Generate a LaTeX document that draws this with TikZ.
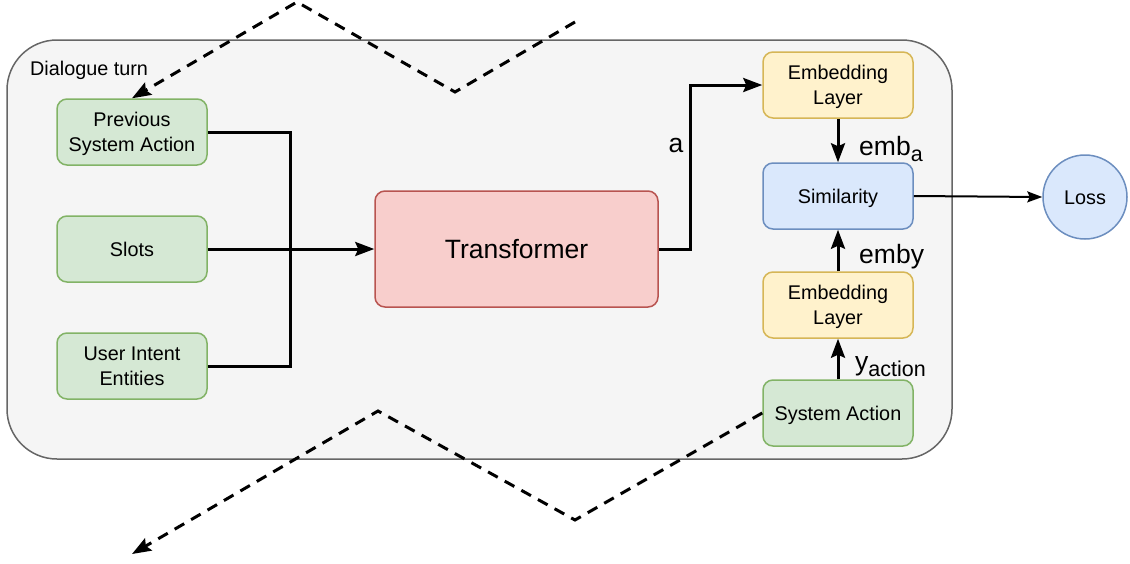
\documentclass[tikz,border=0pt]{standalone}
\usepackage{fontspec}
\setmainfont{Liberation Sans}
\usetikzlibrary{arrows.meta}
\definecolor{contfill}{HTML}{F5F5F5}
\definecolor{contdraw}{HTML}{666666}
\definecolor{gfill}{HTML}{D5E8D4}
\definecolor{gdraw}{HTML}{82B366}
\definecolor{rfill}{HTML}{F8CECC}
\definecolor{rdraw}{HTML}{B85450}
\definecolor{yfill}{HTML}{FFF2CC}
\definecolor{ydraw}{HTML}{D6B656}
\definecolor{bfill}{HTML}{DAE8FC}
\definecolor{bdraw}{HTML}{6C8EBF}
\newcommand{\lblsub}[1]{\raisebox{-6pt}{\fontsize{21.5}{24}\selectfont #1}}
\tikzset{
  box/.style={draw, line width=1.5pt, rounded corners=10pt, minimum width=150pt, minimum height=66pt,
    align=center, inner sep=2pt, font=\fontsize{19.8}{25}\selectfont},
  oneline/.style={text height=14.5pt, text depth=0pt},
  twoline/.style={text height=39.5pt, text depth=0pt},
  greenbox/.style={box, fill=gfill, draw=gdraw},
  yellowbox/.style={box, fill=yfill, draw=ydraw},
  bluebox/.style={box, fill=bfill, draw=bdraw},
  conn/.style={line width=3pt},
  tip/.style={-{Stealth[length=19pt,width=14pt,inset=3pt]}},
  thintip/.style={-{Stealth[length=15pt,width=11pt,inset=2.5pt]}},
  dashline/.style={line width=3pt, dash pattern=on 11pt off 8pt},
  lbl/.style={font=\fontsize{26.5}{30}\selectfont, inner sep=0pt},
}
\begin{document}
\begin{tikzpicture}[x=1pt,y=-1pt]
\path[use as bounding box] (0,0) rectangle (1130,563);
% container
\node[draw=contdraw, fill=contfill, line width=1.5pt, rounded corners=50pt,
  minimum width=945pt, minimum height=419pt, inner sep=0pt] (cont) at (479.5,249.5) {};
\node[anchor=west, inner sep=0pt, font=\fontsize{19.8}{22}\selectfont] (title) at (30,70) {Dialogue turn};
% left inputs
\node[greenbox, twoline] (prev) at (132,132) {Previous\\System Action};
\node[greenbox, oneline] (slots) at (132,249) {Slots};
\node[greenbox, twoline] (user) at (132,366) {User Intent\\Entities};
% transformer
\node[box, oneline, fill=rfill, draw=rdraw, minimum width=283pt, minimum height=116pt,
  font=\fontsize{26.5}{30}\selectfont, text height=19.5pt] (trans) at (516.5,249) {Transformer};
% right column
\node[yellowbox, twoline] (emb1) at (838,85) {Embedding\\Layer};
\node[bluebox, oneline] (sim) at (838,196) {Similarity};
\node[yellowbox, twoline] (emb2) at (838,305) {Embedding\\Layer};
\node[greenbox, oneline] (sys) at (838,413) {System Action};
\node[circle, draw=bdraw, fill=bfill, line width=1.5pt, minimum size=84pt, inner sep=0pt,
  font=\fontsize{19.8}{22}\selectfont, text height=14.5pt, text depth=0pt] (loss) at (1085,197) {Loss};
% connectors
\coordinate (bus) at (290,249);
\draw[conn] (prev.east) -| (bus);
\draw[conn] (user.east) -| (bus);
\draw[conn,tip] (slots.east) -- (trans.west);
\coordinate (rise) at (690,249);
\draw[conn,tip] (trans.east) -- (rise) |- (emb1.west);
\draw[conn,tip] (emb1.south) -- (sim.north);
\draw[conn,tip] (emb2.north) -- (sim.south);
\draw[conn,tip] (sys.north) -- (emb2.south);
\draw[line width=2pt,thintip] (sim.east) -- (loss.west);
% labels
\node[lbl] (la) at (676,145) {a};
\node[lbl, anchor=base west] (lemba) at (859,155) {emb\lblsub{a}};
\node[lbl, anchor=base west] (lemby) at (859,263) {emby};
\node[lbl, anchor=base west] (lyact) at (855,370) {y\lblsub{action}};
% dashed paths
\coordinate (t1) at (575,22);
\coordinate (t2) at (455,92);
\coordinate (t3) at (297,2);
\draw[dashline,tip] (t1) -- (t2) -- (t3) -- (prev.north);
\coordinate (b1) at (575,520);
\coordinate (b2) at (378,411);
\coordinate (b3) at (132,554);
\draw[dashline,tip] (sys.west) -- (b1) -- (b2) -- (b3);
\end{tikzpicture}
\end{document}
